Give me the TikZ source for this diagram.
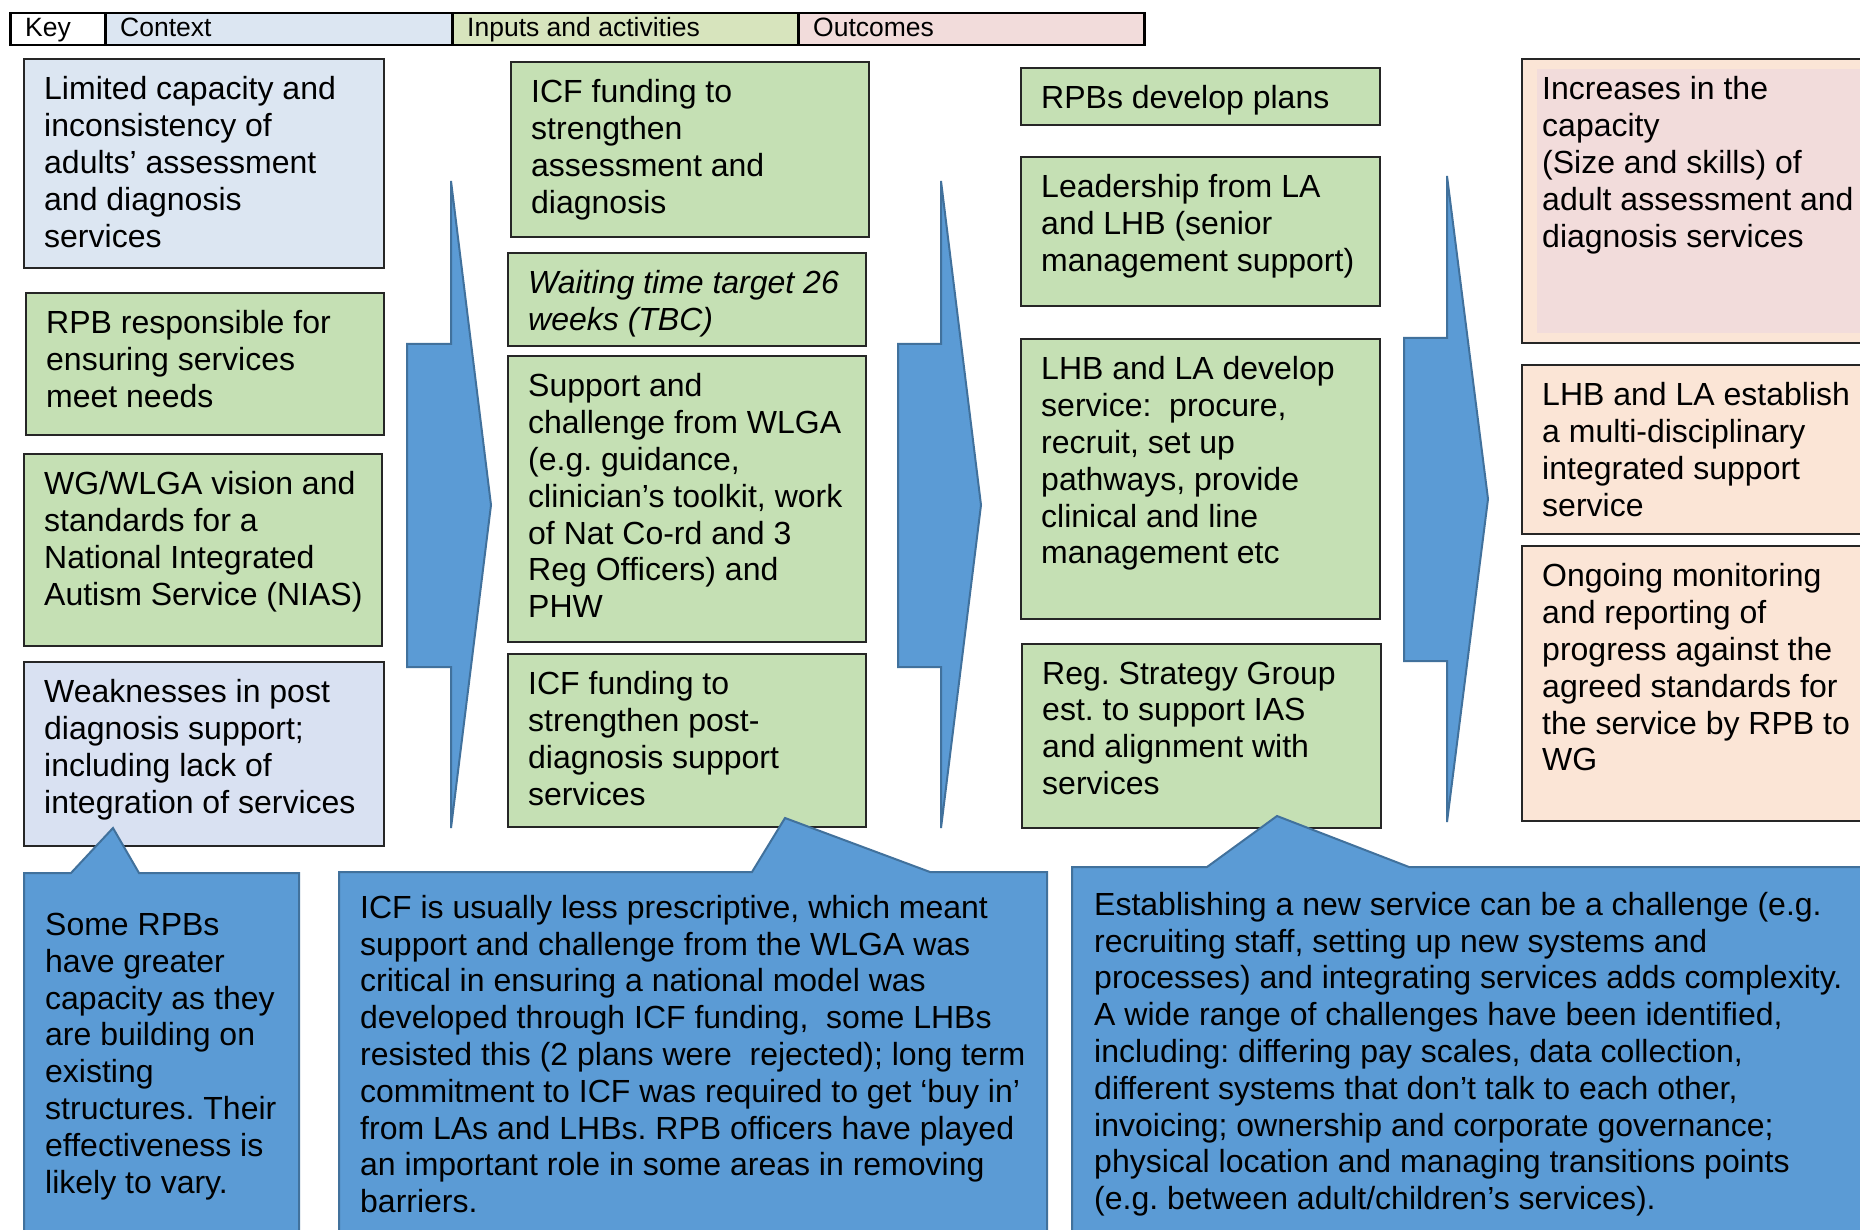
\documentclass[tikz,border=0pt]{standalone}
\usepackage{fontspec}
\setmainfont{Liberation Sans}
\usetikzlibrary{positioning}
\frenchspacing

\definecolor{ctxblue}{HTML}{DCE6F2}
\definecolor{ctxlav}{HTML}{D9E1F2}
\definecolor{inpgreen}{HTML}{C5E0B4}
\definecolor{keygreen}{HTML}{D7E4BD}
\definecolor{outpink}{HTML}{F2DCDB}
\definecolor{outpeach}{HTML}{FBE5D6}
\definecolor{callblue}{HTML}{5B9BD5}
\definecolor{callline}{HTML}{41719C}

\begin{document}
\begin{tikzpicture}[x=1pt, y=-1pt,
    box/.style={draw=black!85, line width=1.7pt, anchor=north west, inner sep=0pt, outer sep=0pt},
    ctx/.style={box, fill=ctxblue},
    inp/.style={box, fill=inpgreen},
    outc/.style={box, fill=outpeach},
    txt/.style={anchor=north west, align=left, inner sep=0pt, xshift=20pt, yshift=-17.5pt,
                font=\fontsize{32}{36.8}\selectfont},
    calltxt/.style={anchor=north west, align=left, inner sep=0pt,
                font=\fontsize{32}{36.8}\selectfont},
    keycell/.style={draw=black, line width=2.5pt, anchor=north west, inner sep=0pt,
                minimum height=32pt},
    keytxt/.style={anchor=base west, inner sep=0pt, xshift=16pt, yshift=-7.5pt,
                font=\fontsize{26.5}{30}\selectfont},
    bigarrow/.style={fill=callblue, draw=callline, line width=2pt},
    callout/.style={fill=callblue, draw=callline, line width=2pt}]

    % page
    \useasboundingbox (0,0) rectangle (1860,1230);
    \clip (0,0) rectangle (1860,1230);
    \fill[white] (0,0) rectangle (1860,1230);

    % key bar
    \node[keycell, fill=white, minimum width=95pt] (key) at (9,12) {};
    \node[keycell, fill=ctxblue, minimum width=347pt] (ctxkey) at (104,12) {};
    \node[keycell, fill=keygreen, minimum width=346pt] (inpkey) at (451,12) {};
    \node[keycell, fill=outpink, minimum width=346pt] (outkey) at (797,12) {};
    \node[keytxt] (keyT) at (key.west) {Key};
    \node[keytxt] (ctxkeyT) at (ctxkey.west) {Context};
    \node[keytxt] (inpkeyT) at (inpkey.west) {Inputs and activities};
    \node[keytxt] (outkeyT) at (outkey.west) {Outcomes};

    % context column
    \node[ctx, minimum width=360pt, minimum height=209pt] (limcap) at (24,59) {};
    \node[txt] (limcapT) at (limcap.north west)
      {Limited capacity and\\inconsistency of\\adults’ assessment\\and diagnosis\\services};
    \node[inp, minimum width=358pt, minimum height=142pt] (rpbresp) at (26,293) {};
    \node[txt] (rpbrespT) at (rpbresp.north west)
      {RPB responsible for\\ensuring services\\meet needs};
    \node[inp, minimum width=358pt, minimum height=192pt] (vision) at (24,454) {};
    \node[txt] (visionT) at (vision.north west)
      {WG/WLGA vision and\\standards for a\\National Integrated\\Autism Service (NIAS)};
    \node[box, fill=ctxlav, minimum width=360pt, minimum height=184pt] (weak) at (24,662) {};
    \node[txt] (weakT) at (weak.north west)
      {Weaknesses in post\\diagnosis support;\\including lack of\\integration of services};

    % inputs column
    \node[inp, minimum width=358pt, minimum height=175pt] (icfassess) at (511,62) {};
    \node[txt] (icfassessT) at (icfassess.north west)
      {ICF funding to\\strengthen\\assessment and\\diagnosis};
    \node[inp, minimum width=358pt, minimum height=93pt] (waiting) at (508,253) {};
    \node[txt, font=\fontsize{32}{36.8}\selectfont\itshape] (waitingT) at (waiting.north west)
      {Waiting time target 26\\weeks (TBC)};
    \node[inp, minimum width=358pt, minimum height=286pt] (support) at (508,356) {};
    \node[txt] (supportT) at (support.north west)
      {Support and\\challenge from WLGA\\(e.g. guidance,\\clinician’s toolkit, work\\of Nat Co-rd and 3\\Reg Officers) and\\PHW};
    \node[inp, minimum width=358pt, minimum height=173pt] (icfpost) at (508,654) {};
    \node[txt] (icfpostT) at (icfpost.north west)
      {ICF funding to\\strengthen post-\\diagnosis support\\services};

    % activities column
    \node[inp, minimum width=359pt, minimum height=57pt] (plans) at (1021,68) {};
    \node[txt] (plansT) at (plans.north west) {RPBs develop plans};
    \node[inp, minimum width=359pt, minimum height=149pt] (leader) at (1021,157) {};
    \node[txt] (leaderT) at (leader.north west)
      {Leadership from LA\\and LHB (senior\\management support)};
    \node[inp, minimum width=359pt, minimum height=280pt] (develop) at (1021,339) {};
    \node[txt] (developT) at (develop.north west)
      {LHB and LA develop\\service:\ \ procure,\\recruit, set up\\pathways, provide\\clinical and line\\management etc};
    \node[inp, minimum width=359pt, minimum height=184pt] (regstrat) at (1022,644) {};
    \node[txt] (regstratT) at (regstrat.north west)
      {Reg. Strategy Group\\est. to support IAS\\and alignment with\\services};

    % outcomes column
    \node[outc, minimum width=360pt, minimum height=284pt] (increase) at (1522,59) {};
    \fill[outpink] (1537,69) rectangle (1880,333);
    \node[txt] (increaseT) at (increase.north west)
      {Increases in the\\capacity\\(Size and skills) of\\adult assessment and\\diagnosis services};
    \node[outc, minimum width=360pt, minimum height=169pt] (establish) at (1522,365) {};
    \node[txt] (establishT) at (establish.north west)
      {LHB and LA establish\\a multi-disciplinary\\integrated support\\service};
    \node[outc, minimum width=360pt, minimum height=275pt] (monitor) at (1522,546) {};
    \node[txt] (monitorT) at (monitor.north west)
      {Ongoing monitoring\\and reporting of\\progress against the\\agreed standards for\\the service by RPB to\\WG};

    % block arrows
    \draw[bigarrow] (451,181) -- (491,505) -- (451,828) -- (451,667) -- (407,667)
      -- (407,344) -- (451,344) -- cycle;
    \draw[bigarrow] (941,181) -- (981,505) -- (941,828) -- (941,667) -- (898,667)
      -- (898,344) -- (941,344) -- cycle;
    \draw[bigarrow] (1447,176) -- (1488,499) -- (1447,822) -- (1447,661) -- (1404,661)
      -- (1404,338) -- (1447,338) -- cycle;

    % callouts
    \draw[callout] (24,873) -- (71,873) -- (113,828) -- (139,873) -- (299,873)
      -- (299,1245) -- (24,1245) -- cycle;
    \draw[callout] (339,872) -- (752,872) -- (785,818) -- (930,872) -- (1047,872)
      -- (1047,1245) -- (339,1245) -- cycle;
    \draw[callout] (1072,867) -- (1207,867) -- (1277,816) -- (1409,867) -- (1880,867)
      -- (1880,1245) -- (1072,1245) -- cycle;

    \node[calltxt] (rpbnote) at (45,913)
      {Some RPBs\\have greater\\capacity as they\\are building on\\existing\\structures. Their\\effectiveness is\\likely to vary.};
    \node[calltxt] (icfnote) at (360,895)
      {ICF is usually less prescriptive, which meant\\support and challenge from the WLGA was\\critical in ensuring a national model was\\developed through ICF funding,\ \ some LHBs\\resisted this (2 plans were\ \ rejected); long term\\commitment to ICF was required to get ‘buy in’\\from LAs and LHBs. RPB officers have played\\an important role in some areas in removing\\barriers.};
    \node[calltxt] (estnote) at (1094,892)
      {Establishing a new service can be a challenge (e.g.\\recruiting staff, setting up new systems and\\processes) and integrating services adds complexity.\\A wide range of challenges have been identified,\\including: differing pay scales, data collection,\\different systems that don’t talk to each other,\\invoicing; ownership and corporate governance;\\physical location and managing transitions points\\(e.g. between adult/children’s services).};
\end{tikzpicture}
\end{document}
